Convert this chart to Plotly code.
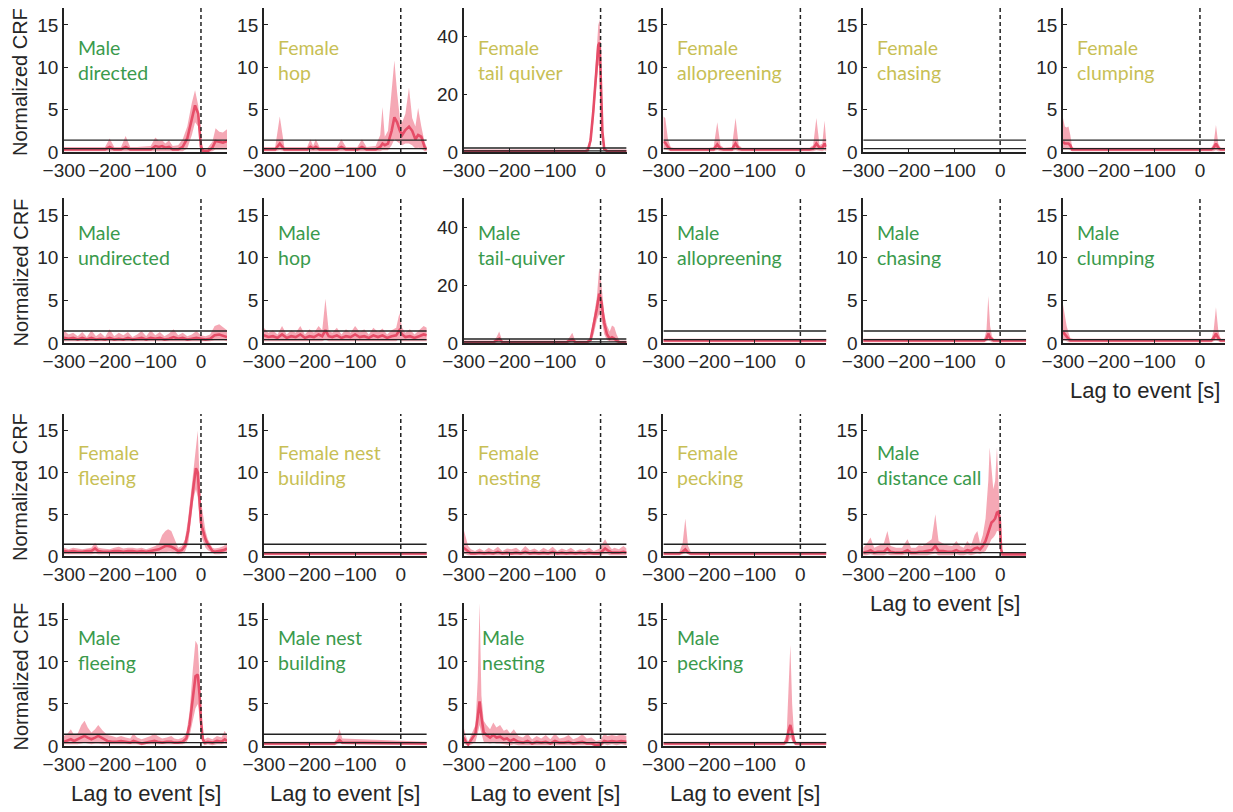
import plotly.graph_objects as go

# ---------------- data ----------------
X_TICKS = [-300, -200, -100, 0]
Y_TICKS_SMALL = [0, 5, 10, 15]
Y_TICKS_LARGE = [0, 20, 40]
UPPER_THR = 1.4
LOWER_THR = 0.4

male_directed = dict(
    x=[-300, -270, -240, -210, -200, -190, -175, -165, -155, -140, -110, -100, -92, -85, -78, -70, -62, -50, -40, -30, -20, -13, -6, 0, 5, 15, 25, 32, 40, 48, 57],
    hi=[0.6, 0.6, 0.6, 0.6, 1.6, 0.6, 0.6, 1.9, 0.6, 0.6, 0.7, 1.7, 1.3, 1.4, 1.0, 1.4, 0.7, 0.8, 1.5, 3.0, 5.8, 7.3, 5.5, 1.5, 0.4, 0.5, 1.2, 2.8, 2.4, 2.3, 2.7],
    mid=[0.3, 0.3, 0.3, 0.3, 0.6, 0.3, 0.3, 0.6, 0.3, 0.3, 0.3, 0.7, 0.6, 0.7, 0.5, 0.6, 0.3, 0.3, 0.6, 1.6, 3.8, 5.5, 4.5, 0.6, 0.1, 0.1, 0.5, 1.3, 1.2, 1.1, 1.3],
    lo=[0.1, 0.1, 0.1, 0.1, 0.1, 0.1, 0.1, 0.1, 0.1, 0.1, 0.1, 0.1, 0.1, 0.1, 0.1, 0.1, 0.1, 0.1, 0.1, 0.4, 2.0, 3.5, 3.0, 0.1, 0.0, 0.0, 0.1, 0.3, 0.3, 0.3, 0.3],
)
female_hop = dict(
    x=[-300, -275, -265, -255, -240, -205, -198, -192, -186, -178, -140, -130, -120, -95, -85, -75, -55, -45, -40, -35, -28, -20, -14, -8, -2, 3, 10, 18, 25, 32, 38, 45, 52, 57],
    hi=[0.6, 0.6, 4.2, 0.6, 0.6, 0.6, 1.5, 0.7, 1.5, 0.6, 0.6, 1.5, 0.6, 0.6, 1.5, 0.6, 0.7, 2.0, 5.3, 1.8, 2.5, 7.0, 10.8, 7.0, 4.0, 3.5, 4.5, 7.6, 4.0, 3.0, 5.2, 3.0, 1.2, 0.6],
    mid=[0.3, 0.3, 1.0, 0.3, 0.3, 0.3, 0.6, 0.4, 0.6, 0.3, 0.3, 0.6, 0.3, 0.3, 0.6, 0.3, 0.3, 0.6, 1.0, 0.8, 1.0, 2.5, 4.1, 3.5, 2.5, 2.0, 2.6, 3.0, 2.5, 1.5, 2.0, 1.8, 0.6, 0.3],
    lo=[0.1, 0.1, 0.2, 0.1, 0.1, 0.1, 0.1, 0.1, 0.1, 0.1, 0.1, 0.1, 0.1, 0.1, 0.1, 0.1, 0.1, 0.1, 0.2, 0.2, 0.2, 0.8, 1.5, 1.2, 1.0, 0.8, 1.0, 1.0, 0.8, 0.4, 0.5, 0.4, 0.1, 0.1],
)
female_tail_quiver = dict(
    x=[-300, -35, -28, -22, -16, -10, -5, -2, 1, 4, 8, 15, 57],
    hi=[0.6, 0.6, 1.0, 6, 18, 34, 44, 46, 30, 10, 1.5, 0.6, 0.6],
    mid=[0.3, 0.3, 0.6, 4, 14, 28, 37, 38, 24, 7, 1.0, 0.3, 0.3],
    lo=[0.1, 0.1, 0.3, 2, 10, 22, 30, 30, 18, 4, 0.5, 0.1, 0.1],
)
female_allopreening = dict(
    x=[-300, -296, -290, -284, -278, -200, -190, -182, -175, -168, -150, -142, -135, -128, 20, 28, 35, 42, 48, 53, 57],
    hi=[4.2, 4.0, 1.5, 0.6, 0.5, 0.5, 0.6, 3.5, 0.8, 0.5, 0.6, 4.0, 0.8, 0.5, 0.5, 0.8, 4.0, 0.8, 1.0, 3.7, 1.0],
    mid=[1.2, 1.1, 0.6, 0.3, 0.3, 0.3, 0.3, 0.9, 0.4, 0.3, 0.3, 1.0, 0.4, 0.3, 0.3, 0.4, 1.0, 0.5, 0.5, 1.0, 0.6],
    lo=[0.3, 0.3, 0.2, 0.1, 0.1, 0.1, 0.1, 0.2, 0.1, 0.1, 0.1, 0.2, 0.1, 0.1, 0.1, 0.1, 0.2, 0.1, 0.1, 0.2, 0.1],
)
female_chasing = None
female_clumping = dict(
    x=[-300, -296, -292, -288, -284, -280, -276, 25, 30, 35, 40, 45, 57],
    hi=[4.0, 3.0, 2.9, 3.0, 2.0, 0.6, 0.5, 0.5, 1.0, 3.2, 1.0, 0.5, 0.5],
    mid=[1.2, 1.0, 1.0, 1.0, 0.8, 0.3, 0.3, 0.3, 0.5, 1.0, 0.5, 0.3, 0.3],
    lo=[0.3, 0.3, 0.3, 0.3, 0.2, 0.1, 0.1, 0.1, 0.1, 0.2, 0.1, 0.1, 0.1],
)
male_undirected = dict(
    x=[-300, -290, -280, -270, -260, -250, -240, -230, -220, -210, -200, -190, -180, -170, -160, -150, -140, -130, -120, -110, -100, -90, -80, -70, -60, -50, -40, -30, -20, -10, 0, 10, 20, 30, 40, 50, 57],
    hi=[1.5, 1.0, 1.2, 0.8, 1.3, 0.7, 1.5, 0.8, 1.2, 0.7, 1.6, 0.8, 1.2, 0.9, 1.3, 0.7, 1.0, 1.4, 0.8, 1.5, 0.9, 1.3, 0.8, 1.1, 1.6, 0.9, 1.2, 0.8, 1.0, 1.4, 0.9, 0.8, 1.0, 2.0, 2.2, 1.8, 1.5],
    mid=[0.6, 0.5, 0.6, 0.4, 0.6, 0.4, 0.6, 0.4, 0.5, 0.4, 0.6, 0.4, 0.5, 0.4, 0.6, 0.4, 0.5, 0.6, 0.4, 0.6, 0.5, 0.6, 0.4, 0.5, 0.7, 0.5, 0.6, 0.4, 0.5, 0.6, 0.5, 0.4, 0.5, 0.9, 1.0, 0.8, 0.7],
    lo=[0.2, 0.2, 0.2, 0.2, 0.2, 0.2, 0.2, 0.2, 0.2, 0.2, 0.2, 0.2, 0.2, 0.2, 0.2, 0.2, 0.2, 0.2, 0.2, 0.2, 0.2, 0.2, 0.2, 0.2, 0.2, 0.2, 0.2, 0.2, 0.2, 0.2, 0.2, 0.2, 0.2, 0.3, 0.3, 0.3, 0.2],
)
male_hop = dict(
    x=[-300, -290, -280, -270, -260, -250, -240, -230, -220, -210, -200, -190, -180, -172, -165, -158, -150, -140, -130, -120, -110, -100, -90, -80, -70, -60, -50, -40, -30, -20, -10, -3, 3, 10, 20, 30, 40, 50, 57],
    hi=[1.8, 1.2, 1.5, 1.0, 2.0, 1.0, 1.5, 1.2, 2.0, 1.0, 1.6, 1.2, 2.0, 1.5, 5.2, 1.5, 1.2, 1.8, 1.0, 1.6, 1.2, 2.0, 1.3, 1.6, 1.0, 1.8, 1.3, 1.7, 1.0, 1.5, 1.8, 3.5, 1.8, 1.2, 1.6, 1.0, 1.5, 2.0, 1.8],
    mid=[0.9, 0.7, 0.8, 0.6, 1.0, 0.6, 0.8, 0.7, 1.0, 0.6, 0.8, 0.7, 1.0, 0.8, 1.5, 0.8, 0.7, 0.9, 0.6, 0.8, 0.7, 1.0, 0.7, 0.8, 0.6, 0.9, 0.7, 0.9, 0.6, 0.8, 0.9, 1.5, 1.0, 0.7, 0.8, 0.6, 0.8, 1.0, 0.9],
    lo=[0.2, 0.2, 0.2, 0.2, 0.2, 0.2, 0.2, 0.2, 0.2, 0.2, 0.2, 0.2, 0.2, 0.2, 0.4, 0.2, 0.2, 0.2, 0.2, 0.2, 0.2, 0.2, 0.2, 0.2, 0.2, 0.2, 0.2, 0.2, 0.2, 0.2, 0.2, 0.5, 0.2, 0.2, 0.2, 0.2, 0.2, 0.2, 0.2],
)
male_tail_quiver = dict(
    x=[-300, -235, -228, -222, -215, -75, -68, -62, -55, -30, -22, -15, -8, -3, 2, 8, 14, 20, 25, 30, 35, 42, 57],
    hi=[0.6, 0.6, 2.0, 4.0, 0.6, 0.6, 2.0, 3.5, 0.6, 0.6, 2.0, 9, 16, 26, 20, 10, 6, 4, 6, 5.5, 3, 0.6, 0.6],
    mid=[0.3, 0.3, 0.8, 1.5, 0.3, 0.3, 0.8, 1.2, 0.3, 0.3, 1.0, 6, 12, 17, 14, 7, 3, 1.5, 2.0, 1.5, 0.8, 0.3, 0.3],
    lo=[0.1, 0.1, 0.2, 0.3, 0.1, 0.1, 0.2, 0.3, 0.1, 0.1, 0.3, 3, 8, 10, 8, 3, 1, 0.5, 0.5, 0.4, 0.2, 0.1, 0.1],
)
male_allopreening = dict(x=[-300, 57], hi=[0.5, 0.5], mid=[0.3, 0.3], lo=[0.1, 0.1])
male_chasing = dict(
    x=[-300, -35, -30, -26, -22, -18, -14, 57],
    hi=[0.5, 0.5, 1.5, 5.5, 2.0, 0.8, 0.5, 0.5],
    mid=[0.3, 0.3, 0.5, 1.1, 0.6, 0.4, 0.3, 0.3],
    lo=[0.1, 0.1, 0.2, 0.3, 0.2, 0.1, 0.1, 0.1],
)
male_clumping = dict(
    x=[-300, -296, -292, -288, -284, -278, 25, 30, 35, 40, 45, 57],
    hi=[4.5, 3.0, 2.0, 1.2, 0.6, 0.5, 0.5, 1.5, 4.2, 1.5, 0.5, 0.5],
    mid=[1.3, 1.0, 0.8, 0.5, 0.3, 0.3, 0.3, 0.6, 1.1, 0.6, 0.3, 0.3],
    lo=[0.3, 0.3, 0.2, 0.1, 0.1, 0.1, 0.1, 0.2, 0.3, 0.2, 0.1, 0.1],
)
female_fleeing = dict(
    x=[-300, -290, -280, -270, -260, -250, -240, -232, -225, -215, -200, -190, -180, -170, -160, -150, -140, -130, -120, -110, -100, -92, -85, -78, -72, -65, -58, -50, -42, -35, -28, -22, -16, -11, -7, -3, 0, 3, 6, 10, 15, 20, 25, 30, 40, 50, 57],
    hi=[1.0, 0.8, 1.0, 0.9, 0.8, 0.9, 1.0, 1.6, 1.0, 0.9, 0.8, 1.0, 1.1, 0.9, 1.0, 1.0, 0.9, 1.0, 0.8, 1.0, 1.2, 1.5, 2.5, 3.0, 3.2, 3.0, 2.0, 1.0, 1.2, 2.0, 4.5, 7.5, 10, 13, 15, 9, 6.5, 5.5, 4.5, 3, 2, 1.5, 1.0, 0.9, 1.0, 1.2, 1.6],
    mid=[0.6, 0.5, 0.6, 0.5, 0.5, 0.6, 0.6, 0.9, 0.6, 0.5, 0.5, 0.6, 0.6, 0.5, 0.6, 0.6, 0.5, 0.6, 0.5, 0.6, 0.7, 0.8, 1.0, 1.2, 1.2, 1.1, 0.9, 0.6, 0.7, 1.2, 3.0, 6, 8.5, 10.5, 10, 6.5, 4.0, 3.3, 2.7, 2.0, 1.4, 1.0, 0.6, 0.5, 0.6, 0.7, 0.9],
    lo=[0.2, 0.2, 0.2, 0.2, 0.2, 0.2, 0.2, 0.3, 0.2, 0.2, 0.2, 0.2, 0.2, 0.2, 0.2, 0.2, 0.2, 0.2, 0.2, 0.2, 0.2, 0.3, 0.4, 0.5, 0.5, 0.5, 0.4, 0.2, 0.3, 0.5, 1.5, 4, 7, 8, 7, 4.5, 2.5, 2.0, 1.5, 1.0, 0.7, 0.5, 0.3, 0.2, 0.2, 0.3, 0.4],
)
female_nest_building = dict(x=[-300, 57], hi=[0.5, 0.5], mid=[0.3, 0.3], lo=[0.1, 0.1])
female_nesting = dict(
    x=[-300, -296, -290, -284, -275, -265, -255, -245, -235, -225, -215, -205, -195, -185, -175, -165, -155, -145, -135, -125, -115, -105, -95, -85, -75, -65, -55, -45, -35, -25, -15, -5, 0, 5, 10, 15, 20, 25, 30, 40, 50, 57],
    hi=[3.2, 2.5, 1.2, 0.8, 0.6, 0.9, 0.6, 1.0, 0.7, 1.1, 0.6, 0.9, 0.8, 1.0, 0.6, 1.2, 0.7, 0.9, 0.6, 1.0, 0.7, 1.1, 0.6, 0.9, 0.7, 1.0, 0.6, 0.8, 0.7, 1.0, 0.6, 0.8, 1.0, 1.6, 2.0, 1.5, 1.2, 0.8, 1.0, 0.8, 1.2, 0.9],
    mid=[1.0, 0.8, 0.5, 0.3, 0.3, 0.4, 0.3, 0.4, 0.3, 0.5, 0.3, 0.4, 0.3, 0.4, 0.3, 0.5, 0.3, 0.4, 0.3, 0.4, 0.3, 0.5, 0.3, 0.4, 0.3, 0.4, 0.3, 0.4, 0.3, 0.4, 0.3, 0.3, 0.4, 0.7, 0.9, 0.7, 0.5, 0.4, 0.4, 0.4, 0.5, 0.4],
    lo=[0.3, 0.2, 0.1, 0.1, 0.1, 0.1, 0.1, 0.1, 0.1, 0.1, 0.1, 0.1, 0.1, 0.1, 0.1, 0.1, 0.1, 0.1, 0.1, 0.1, 0.1, 0.1, 0.1, 0.1, 0.1, 0.1, 0.1, 0.1, 0.1, 0.1, 0.1, 0.1, 0.1, 0.2, 0.2, 0.2, 0.1, 0.1, 0.1, 0.1, 0.1, 0.1],
)
female_pecking = dict(
    x=[-300, -265, -258, -252, -246, -240, 57],
    hi=[0.5, 0.5, 1.5, 4.5, 1.2, 0.5, 0.5],
    mid=[0.3, 0.3, 0.5, 0.8, 0.4, 0.3, 0.3],
    lo=[0.1, 0.1, 0.2, 0.3, 0.2, 0.1, 0.1],
)
male_distance_call = dict(
    x=[-300, -292, -284, -276, -268, -255, -247, -240, -228, -215, -203, -195, -185, -178, -170, -160, -150, -142, -135, -125, -115, -105, -96, -88, -80, -72, -64, -56, -50, -44, -38, -32, -26, -23, -19, -15, -11, -7, -4, -1, 2, 5, 57],
    hi=[1.0, 1.5, 2.2, 1.0, 1.2, 1.5, 3.0, 1.2, 1.0, 1.0, 2.0, 1.0, 1.0, 1.3, 1.2, 1.6, 2.0, 5.0, 1.8, 1.5, 1.3, 1.2, 1.8, 1.2, 1.0, 1.8, 1.2, 2.5, 3.0, 1.5, 2.5, 4.5, 9, 13, 10, 8, 9, 13, 9, 5, 1.0, 0.4, 0.4],
    mid=[0.4, 0.5, 0.7, 0.4, 0.5, 0.5, 0.9, 0.5, 0.4, 0.4, 0.7, 0.4, 0.4, 0.5, 0.5, 0.6, 0.7, 1.2, 0.6, 0.6, 0.5, 0.5, 0.7, 0.5, 0.5, 0.7, 0.6, 0.9, 1.0, 0.8, 1.2, 1.8, 2.8, 3.5, 4.0, 4.2, 4.5, 5.2, 5.3, 4.5, 0.8, 0.2, 0.2],
    lo=[0.1, 0.1, 0.2, 0.1, 0.1, 0.1, 0.2, 0.1, 0.1, 0.1, 0.2, 0.1, 0.1, 0.1, 0.1, 0.1, 0.2, 0.3, 0.1, 0.1, 0.1, 0.1, 0.2, 0.1, 0.1, 0.2, 0.1, 0.2, 0.3, 0.2, 0.4, 0.6, 1.2, 1.5, 2.0, 2.2, 2.5, 3.0, 3.0, 2.5, 0.3, 0.1, 0.1],
)
male_fleeing = dict(
    x=[-300, -292, -285, -278, -270, -262, -255, -248, -240, -232, -225, -215, -205, -195, -185, -175, -165, -155, -148, -140, -130, -120, -110, -102, -95, -85, -75, -65, -58, -50, -40, -32, -25, -18, -12, -7, -3, 0, 4, 8, 15, 25, 35, 45, 52, 57],
    hi=[1.2, 1.5, 2.0, 1.3, 1.5, 2.5, 3.0, 2.2, 1.6, 2.0, 2.5, 1.8, 1.3, 1.2, 1.0, 1.2, 1.0, 0.9, 1.5, 1.0, 0.8, 1.0, 1.2, 1.5, 1.2, 0.9, 1.0, 1.2, 0.9, 0.8, 1.0, 1.5, 4, 9, 12.5, 12, 8, 4, 1.5, 0.8, 1.0, 0.8, 1.2, 1.0, 1.8, 1.2],
    mid=[0.5, 0.7, 0.8, 0.6, 0.8, 1.0, 1.2, 1.0, 0.8, 1.0, 1.2, 0.9, 0.6, 0.5, 0.5, 0.6, 0.5, 0.4, 0.6, 0.5, 0.3, 0.4, 0.5, 0.6, 0.5, 0.4, 0.5, 0.5, 0.4, 0.4, 0.5, 0.9, 2.5, 6, 8.3, 8.5, 6, 3, 0.8, 0.4, 0.5, 0.4, 0.6, 0.5, 0.8, 0.6],
    lo=[0.2, 0.2, 0.2, 0.2, 0.2, 0.3, 0.4, 0.3, 0.2, 0.3, 0.3, 0.2, 0.2, 0.2, 0.2, 0.2, 0.2, 0.2, 0.2, 0.2, 0.1, 0.2, 0.2, 0.2, 0.2, 0.2, 0.2, 0.2, 0.2, 0.2, 0.2, 0.4, 1.2, 3.0, 4.5, 5.0, 3.5, 1.5, 0.3, 0.1, 0.2, 0.1, 0.2, 0.2, 0.3, 0.2],
)
male_nest_building = dict(
    x=[-300, -145, -139, -134, -128, 57],
    hi=[0.5, 0.5, 1.0, 2.0, 0.9, 0.5],
    mid=[0.3, 0.3, 0.5, 0.7, 0.4, 0.3],
    lo=[0.1, 0.1, 0.2, 0.3, 0.2, 0.1],
)
male_nesting = dict(
    x=[-300, -295, -290, -282, -274, -269, -265, -261, -256, -250, -242, -235, -228, -220, -212, -205, -198, -190, -180, -170, -160, -150, -140, -130, -120, -110, -100, -90, -80, -70, -60, -50, -40, -30, -20, -10, 0, 8, 15, 25, 35, 45, 57],
    hi=[2.3, 1.2, 0.5, 1.5, 2.5, 8, 17, 6, 3.0, 2.5, 2.0, 2.8, 2.2, 2.5, 1.8, 2.0, 1.5, 2.0, 1.2, 1.0, 1.5, 0.8, 1.2, 0.9, 1.3, 0.8, 1.5, 0.9, 1.0, 1.3, 0.8, 1.0, 1.4, 0.9, 1.0, 0.6, 0.7, 1.5, 1.2, 1.3, 1.2, 1.4, 1.2],
    mid=[1.0, 0.5, 0.2, 0.8, 1.5, 3.5, 5.3, 3.5, 1.6, 1.3, 1.0, 1.3, 1.0, 1.1, 0.8, 0.9, 0.6, 0.8, 0.5, 0.4, 0.6, 0.3, 0.5, 0.4, 0.5, 0.3, 0.6, 0.4, 0.4, 0.5, 0.3, 0.4, 0.5, 0.3, 0.3, 0.1, 0.2, 0.6, 0.5, 0.6, 0.5, 0.6, 0.5],
    lo=[0.3, 0.1, 0.0, 0.2, 0.5, 1.5, 2.5, 1.5, 0.5, 0.4, 0.3, 0.4, 0.3, 0.3, 0.2, 0.2, 0.1, 0.2, 0.1, 0.1, 0.1, 0.1, 0.1, 0.1, 0.1, 0.1, 0.1, 0.1, 0.1, 0.1, 0.1, 0.1, 0.1, 0.1, 0.1, 0.0, 0.0, 0.2, 0.1, 0.2, 0.1, 0.2, 0.1],
)
male_pecking = dict(
    x=[-300, -36, -30, -26, -22, -18, -14, -10, 57],
    hi=[0.5, 0.5, 1.5, 6, 12, 5, 1.5, 0.5, 0.5],
    mid=[0.3, 0.3, 0.6, 1.8, 2.5, 1.5, 0.6, 0.3, 0.3],
    lo=[0.1, 0.1, 0.2, 0.5, 1.0, 0.5, 0.2, 0.1, 0.1],
)

# (row, col, label, sex, data, ymax, show x title)
PANELS = [
    (0, 0, "Male<br>directed", "M", male_directed, 17, False),
    (0, 1, "Female<br>hop", "F", female_hop, 17, False),
    (0, 2, "Female<br>tail quiver", "F", female_tail_quiver, 50, False),
    (0, 3, "Female<br>allopreening", "F", female_allopreening, 17, False),
    (0, 4, "Female<br>chasing", "F", female_chasing, 17, False),
    (0, 5, "Female<br>clumping", "F", female_clumping, 17, False),
    (1, 0, "Male<br>undirected", "M", male_undirected, 17, False),
    (1, 1, "Male<br>hop", "M", male_hop, 17, False),
    (1, 2, "Male<br>tail-quiver", "M", male_tail_quiver, 50, False),
    (1, 3, "Male<br>allopreening", "M", male_allopreening, 17, False),
    (1, 4, "Male<br>chasing", "M", male_chasing, 17, False),
    (1, 5, "Male<br>clumping", "M", male_clumping, 17, True),
    (2, 0, "Female<br>fleeing", "F", female_fleeing, 17, False),
    (2, 1, "Female nest<br>building", "F", female_nest_building, 17, False),
    (2, 2, "Female<br>nesting", "F", female_nesting, 17, False),
    (2, 3, "Female<br>pecking", "F", female_pecking, 17, False),
    (2, 4, "Male<br>distance call", "M", male_distance_call, 17, True),
    (3, 0, "Male<br>fleeing", "M", male_fleeing, 17, True),
    (3, 1, "Male nest<br>building", "M", male_nest_building, 17, True),
    (3, 2, "Male<br>nesting", "M", male_nesting, 17, True),
    (3, 3, "Male<br>pecking", "M", male_pecking, 17, True),
]

# ---------------- layout / style ----------------
W, H = 1233, 812
OFF = 8  # page body margin offsets the figure by 8 px
COL_X = [64 + 199.8 * c - OFF for c in range(6)]
PW = 163
ROWS = [(8 - OFF, 152 - OFF), (198 - OFF, 343 - OFF), (414 - OFF, 556 - OFF), (603 - OFF, 746 - OFF)]
LABEL_MID = [60 - OFF, 245 - OFF, 465 - OFF, 650 - OFF]
XR = [-300, 57]
FONT = "Liberation Sans, Arial, sans-serif"
LFONT = "Lato, Calibri, sans-serif"
SEXCOL = {"M": "#3a9a4c", "F": "#c8bf55"}
MEANCOL = "#e64d68"
FILLCOL = "rgba(238,110,132,0.6)"
BLACK = "#222222"

fig = go.Figure()
layout = dict(
    width=W, height=H, autosize=False,
    margin=dict(l=0, r=0, t=0, b=0, pad=0, autoexpand=False),
    paper_bgcolor="white", plot_bgcolor="white", showlegend=False,
    shapes=[], annotations=[],
)

for i, (r, c, label, sex, d, ymax, xt) in enumerate(PANELS):
    k = i + 1
    xs = "x" if k == 1 else f"x{k}"
    ys = "y" if k == 1 else f"y{k}"
    x0 = COL_X[c]
    top, bot = ROWS[r]
    xdom = [x0 / W, (x0 + PW) / W]
    ydom = [1 - bot / H, 1 - top / H]
    axcommon = dict(showgrid=False, zeroline=False, showline=True, linecolor=BLACK,
                    linewidth=1.5, ticks="inside", ticklen=4, tickwidth=1.2,
                    tickcolor=BLACK, automargin=False,
                    tickfont=dict(family=FONT, size=19, color="#262626"))
    layout["xaxis" if k == 1 else f"xaxis{k}"] = dict(
        domain=xdom, range=XR, anchor=ys, tickvals=X_TICKS, **axcommon)
    layout["yaxis" if k == 1 else f"yaxis{k}"] = dict(
        domain=ydom, range=[0, ymax], anchor=xs,
        tickvals=Y_TICKS_LARGE if ymax > 20 else Y_TICKS_SMALL, **axcommon)

    if d is not None:
        assert len(d["x"]) == len(d["hi"]) == len(d["mid"]) == len(d["lo"]), label
        fig.add_trace(go.Scatter(x=d["x"], y=d["lo"], mode="lines", line=dict(width=0),
                                 xaxis=xs, yaxis=ys, hoverinfo="skip"))
        fig.add_trace(go.Scatter(x=d["x"], y=d["hi"], mode="lines", line=dict(width=0),
                                 fill="tonexty", fillcolor=FILLCOL,
                                 xaxis=xs, yaxis=ys, hoverinfo="skip"))
        fig.add_trace(go.Scatter(x=d["x"], y=d["mid"], mode="lines",
                                 line=dict(color=MEANCOL, width=2.6),
                                 xaxis=xs, yaxis=ys, hoverinfo="skip"))

    for thr in (UPPER_THR, LOWER_THR):
        layout["shapes"].append(dict(type="line", xref=xs, yref=ys, x0=XR[0], x1=XR[1],
                                     y0=thr, y1=thr, line=dict(color=BLACK, width=1.4)))
    layout["shapes"].append(dict(type="line", xref=xs, yref=f"{ys} domain", x0=0, x1=0,
                                 y0=0, y1=1, line=dict(color=BLACK, width=1.5, dash="4px,3px")))

    lx = 12 if label != "Male<br>nesting" else 16
    layout["annotations"].append(dict(
        text=label, xref="paper", yref="paper", x=(x0 + lx) / W, y=1 - LABEL_MID[r] / H,
        xanchor="left", yanchor="middle", align="left", showarrow=False,
        font=dict(family=LFONT, size=19.5, color=SEXCOL[sex])))

    if xt:
        layout["annotations"].append(dict(
            text="Lag to event [s]", xref="paper", yref="paper",
            x=(x0 + PW / 2) / W, y=1 - (bot + 47) / H, xanchor="center", yanchor="middle",
            showarrow=False, font=dict(family=FONT, size=22, color="#262626")))

for r in range(4):
    top, bot = ROWS[r]
    layout["annotations"].append(dict(
        text="Normalized CRF", xref="paper", yref="paper", x=(20 - OFF) / W,
        y=1 - ((top + bot) / 2 + 2) / H, xanchor="center", yanchor="middle", textangle=-90,
        showarrow=False, font=dict(family=FONT, size=20, color="#262626")))

fig.update_layout(**layout)
fig.write_html("out.html", config={"responsive": False})
